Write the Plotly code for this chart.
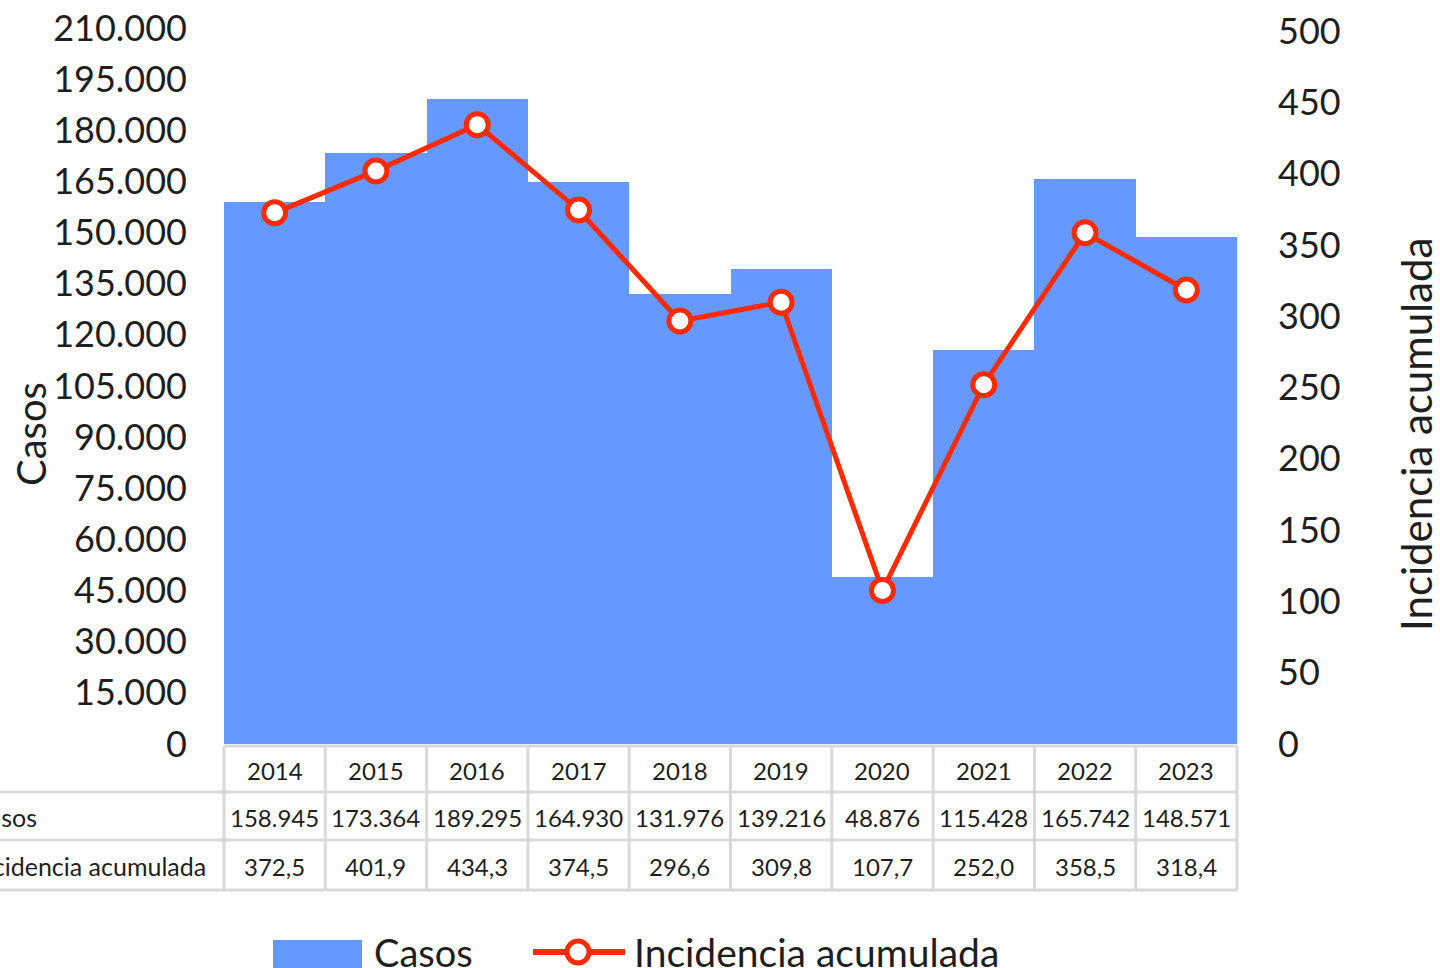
import plotly.graph_objects as go

# ---------------- data ----------------
years = ["2014", "2015", "2016", "2017", "2018", "2019", "2020", "2021", "2022", "2023"]
casos = [158945, 173364, 189295, 164930, 131976, 139216, 48876, 115428, 165742, 148571]
incidencia = [372.5, 401.9, 434.3, 374.5, 296.6, 309.8, 107.7, 252.0, 358.5, 318.4]
left_ticks = list(range(0, 210001, 15000))
right_ticks = list(range(0, 501, 50))
series_names = ["Casos", "Incidencia acumulada"]

# ---------------- style ----------------
W, H = 1440, 968
L, R, T, B = 224, 1237, 28, 744          # plot area in pixels
BLUE = "#6699FF"
RED = "#FF2A00"
GRID = "#D9D9D9"
TXT = "#1E1E1E"
FONT = "Lato"


def px_x(p):
    return (p - L) / (R - L)


def px_y(p):
    return (B - p) / (B - T)


def fmt_casos(v):
    return f"{v:,}".replace(",", ".")


def fmt_inc(v):
    return f"{v:.1f}".replace(".", ",")


n = len(years)

fig = go.Figure()
fig.add_bar(x=years, y=casos, name=series_names[0], marker=dict(color=BLUE, line=dict(width=0)),
            yaxis="y")
fig.add_scatter(x=years, y=incidencia, name=series_names[1], mode="lines+markers", yaxis="y2",
                line=dict(color=RED, width=5),
                marker=dict(size=22, color="white", line=dict(color=RED, width=5)))

shapes = []
annotations = []

# table grid
line_style = dict(color=GRID, width=3)
shapes.append(dict(type="line", xref="paper", yref="paper", x0=0, x1=1,
                   y0=px_y(746), y1=px_y(746), line=line_style, layer="above"))
for yy in (792, 840, 890):
    shapes.append(dict(type="line", xref="paper", yref="paper", x0=px_x(-5), x1=1,
                       y0=px_y(yy), y1=px_y(yy), line=line_style))
for k in range(n + 1):
    shapes.append(dict(type="line", xref="paper", yref="paper", x0=k / n, x1=k / n,
                       y0=px_y(746), y1=px_y(890), line=line_style))

# table text (x given as category index on the category axis)
tfont = dict(family=FONT, size=24, color=TXT)
for i, yr in enumerate(years):
    annotations.append(dict(x=i, y=px_y(770), xref="x", yref="paper", text=yr,
                            showarrow=False, font=tfont, xanchor="center", yanchor="middle"))
    annotations.append(dict(x=i, y=px_y(817), xref="x", yref="paper", text=fmt_casos(casos[i]),
                            showarrow=False, font=tfont, xanchor="center", yanchor="middle"))
    annotations.append(dict(x=i, y=px_y(866), xref="x", yref="paper", text=fmt_inc(incidencia[i]),
                            showarrow=False, font=tfont, xanchor="center", yanchor="middle"))
for name, yy in zip(series_names, (817, 866)):
    annotations.append(dict(x=px_x(-30), y=px_y(yy), xref="paper", yref="paper", text=name,
                            showarrow=False, font=dict(family=FONT, size=25, color=TXT),
                            xanchor="left", yanchor="middle"))

# axis titles
annotations.append(dict(x=px_x(31), y=px_y(434), xref="paper", yref="paper", text="Casos",
                        textangle=-90, showarrow=False, xanchor="center", yanchor="middle",
                        font=dict(family=FONT, size=40, color=TXT)))
annotations.append(dict(x=px_x(1416), y=px_y(435), xref="paper", yref="paper",
                        text="Incidencia acumulada", textangle=-90, showarrow=False,
                        xanchor="center", yanchor="middle",
                        font=dict(family=FONT, size=42, color=TXT)))

# custom legend
ly = 952
shapes.append(dict(type="rect", xref="paper", yref="paper", x0=px_x(273), x1=px_x(362),
                   y0=px_y(940), y1=px_y(975), fillcolor=BLUE, line=dict(width=0)))
annotations.append(dict(x=px_x(372), y=px_y(ly), xref="paper", yref="paper", text=series_names[0],
                        showarrow=False, xanchor="left", yanchor="middle",
                        font=dict(family=FONT, size=38, color=TXT)))
shapes.append(dict(type="line", xref="paper", yref="paper", x0=px_x(533), x1=px_x(625),
                   y0=px_y(ly), y1=px_y(ly), line=dict(color=RED, width=6)))
shapes.append(dict(type="circle", xref="paper", yref="paper", x0=px_x(578 - 11), x1=px_x(578 + 11),
                   y0=px_y(ly + 11), y1=px_y(ly - 11), fillcolor="white",
                   line=dict(color=RED, width=5)))
annotations.append(dict(x=px_x(632), y=px_y(ly), xref="paper", yref="paper", text=series_names[1],
                        showarrow=False, xanchor="left", yanchor="middle",
                        font=dict(family=FONT, size=39, color=TXT)))

axis_font = dict(family=FONT, size=36, color=TXT)
fig.update_layout(
    width=W, height=H, autosize=False,
    margin=dict(l=L, r=W - R, t=T, b=H - B, pad=0, autoexpand=False),
    paper_bgcolor="white", plot_bgcolor="white",
    showlegend=False, bargap=0,
    separators=",.",
    xaxis=dict(type="category", categoryorder="array", categoryarray=years,
               range=[-0.5, n - 0.5], showticklabels=False, showgrid=False, zeroline=False,
               showline=False, ticks="", automargin=False),
    yaxis=dict(range=[0, 210000], tickvals=left_ticks, tickformat=",d", showgrid=False,
               zeroline=False, showline=False, ticks="", tickfont=axis_font,
               ticklabelstandoff=36, automargin=False),
    yaxis2=dict(range=[0, 500 * (B - T) / 713], tickvals=right_ticks, overlaying="y",
                side="right", showgrid=False, zeroline=False, showline=False, ticks="",
                tickfont=axis_font, ticklabelstandoff=40, automargin=False),
    shapes=shapes,
    annotations=annotations,
)

fig.write_html("out.html", config={"displayModeBar": False},
               post_script="document.body.style.margin='0';document.body.style.overflow='hidden';")
